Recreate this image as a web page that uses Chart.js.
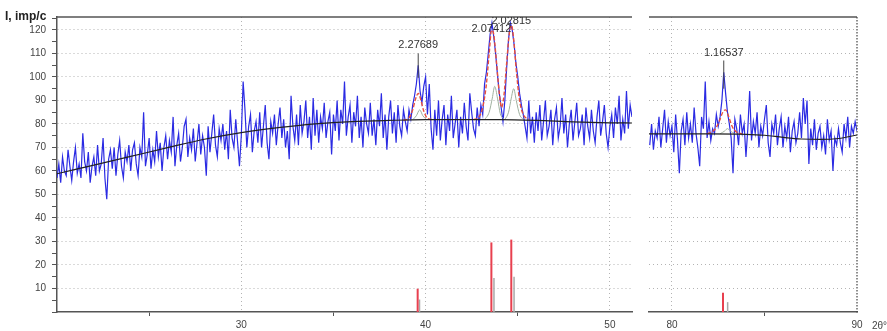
<!DOCTYPE html>
<html>
<head>
<meta charset="utf-8">
<script src="https://cdn.jsdelivr.net/npm/chart.js@4.4.1/dist/chart.umd.min.js"></script>
<style>
  html, body { margin: 0; padding: 0; background: #fff; }
  #wrap { position: relative; width: 887px; height: 331px; overflow: hidden; }
  #wrap canvas { position: absolute; top: 0; }
  #left { left: 0; }
  #right { left: 640px; }
</style>
</head>
<body>
<div id="wrap">
  <canvas id="left" width="640" height="331"></canvas>
  <canvas id="right" width="247" height="331"></canvas>
</div>
<script>
// ---- measured pattern (counts per 0.1 deg step) ----
var STEP = 0.1;
var LEFT_START = 20.0;
var LEFT_COUNTS = [
  57,63,55,66,60,58,69,62,56,64,
  70,59,63,57,76,64,60,68,55,62,
  66,58,71,60,63,74,57,48,65,69,
  61,70,58,67,73,62,57,68,64,71,
  60,69,72,63,58,70,66,85,62,67,
  74,61,69,64,77,66,72,60,70,75,
  65,73,68,83,62,71,76,64,70,79,
  82,66,74,69,78,64,72,80,67,75,
  70,58,79,68,76,84,71,66,78,73,
  80,69,77,65,86,74,70,82,72,62,
  75,98,86,70,79,84,68,77,81,72,
  85,70,79,88,72,65,81,76,84,71,
  80,87,74,82,70,77,65,92,79,73,
  84,71,88,76,81,90,74,83,69,91,
  75,86,72,83,78,89,74,81,85,67,
  84,77,90,73,86,80,98,75,83,88,
  72,85,79,92,74,83,70,87,80,76,
  89,75,82,71,86,79,93,74,84,69,
  83,90,76,85,72,88,79,75,86,81,
  77,86,82,88,92,97,105,94,89,96,
  100,84,97,78,69,86,75,90,73,82,
  88,71,84,77,92,74,80,86,70,83,
  76,89,79,73,93,85,78,75,87,79,
  88,84,97,102,110,118,123,117,110,101,
  93,87,81,90,104,116,123,120,114,106,
  100,93,88,84,79,74,90,76,83,72,
  85,77,88,73,81,90,75,79,86,71,
  82,87,74,79,91,76,84,70,80,86,
  73,81,89,75,78,84,71,87,79,74,
  86,77,72,83,90,75,81,88,76,70,
  79,84,74,87,80,92,73,82,76,94,
  78,88,83
];
var RIGHT_START = 78.8;
var RIGHT_COUNTS = [
  71,80,69,77,74,83,70,78,86,72,81,75,
  79,68,84,73,59,77,82,71,85,74,
  80,72,87,76,70,62,83,78,98,74,
  81,73,78,76,84,79,83,90,102,93,
  85,80,74,59,82,78,71,84,76,80,
  66,78,94,73,81,76,85,70,79,75,
  82,88,72,66,80,76,84,71,78,83,
  70,79,74,83,68,77,81,72,76,85,
  74,91,80,90,63,78,71,82,69,76,
  79,70,75,67,82,73,77,60,74,71,
  78,72,68,80,74,83,70,79,76,81,
  77
];

// background (black)
var BG_L_X = [20, 22, 24, 26, 28, 30, 32, 34, 36, 38, 40, 42, 44, 46, 48, 50, 51.2];
var BG_L_Y = [58.8, 62.5, 66.2, 69.9, 73.5, 76.3, 78.4, 80, 81, 81.5, 81.8, 81.8, 81.8, 81.5, 80.9, 80.5, 80.4];
var BG_R_X = [78.76, 80, 82, 84, 85, 86, 87, 88, 89, 90];
var BG_R_Y = [75.8, 75.8, 75.8, 75.6, 75.2, 74.3, 73.6, 73.4, 73.8, 75.3];

// profile fit (red)
var FIT_A_X = [38.8, 39.1, 39.3, 39.45, 39.6, 39.75, 39.9, 40.1, 40.4];
var FIT_A_Y = [81.5, 82.6, 86, 90.5, 93, 90, 85.5, 82.4, 81.8];
var FIT_B_X = [42.6, 42.9, 43.1, 43.3, 43.45, 43.58, 43.7, 43.85, 44.0, 44.12, 44.25, 44.4, 44.55, 44.66, 44.78, 44.92, 45.1, 45.3, 45.6];
var FIT_B_Y = [81.8, 83, 87, 97, 110, 120, 118, 106, 93, 87, 92, 106, 119, 122, 116, 103, 90, 84, 82];
var FIT_C_X = [81.9, 82.3, 82.55, 82.75, 82.9, 83.05, 83.25, 83.5, 83.8];
var FIT_C_Y = [75.8, 77.5, 81, 85, 86, 83.5, 79, 76.5, 75.8];

// a2 components (grey)
var KA2_A_X = [39.3, 39.5, 39.68, 39.85, 40.05];
var KA2_A_Y = [81.8, 83.5, 86, 83.5, 81.8];
var KA2_B_X = [43.2, 43.45, 43.62, 43.75, 43.9, 44.05, 44.3];
var KA2_B_Y = [81.8, 85, 91, 96, 91, 84.5, 81.8];
var KA2_D_X = [44.3, 44.5, 44.65, 44.78, 44.92, 45.1, 45.35];
var KA2_D_Y = [81.8, 85, 91, 95, 90, 84, 81.8];
var KA2_C_X = [82.6, 82.85, 83.0, 83.15, 83.4];
var KA2_C_Y = [75.8, 77, 78, 77, 75.8];

// reference sticks
var STICK_POS = [39.57, 43.57, 44.65, 82.76];
var STICK_INT = [9.9, 29.6, 30.8, 8.2];
var STICK2_POS = [39.67, 43.71, 44.80, 83.01];
var STICK2_INT = [5.3, 14.5, 15.0, 4.2];

// d-spacing labels
var PEAK_LABELS = ['2.27689', '2.07412', '2.02815', '1.16537'];
var PEAK_LABEL_X = [39.6, 43.57, 44.65, 82.8];
var PEAK_LABEL_Y = [113.6, 120.4, 123.6, 110.2];
var MARK_TOP = [110, null, null, 107];
var MARK_BOT = [99.6, null, null, 95];

var FONT = "'Liberation Sans', Arial, sans-serif";
var AXIS = '#555';
var GRID = '#b4b4b4';

function pts(xs, ys) { return xs.map(function (x, i) { return { x: x, y: ys[i] }; }); }
function counts(start, list) {
  return list.map(function (c, i) { return { x: +(start + i * STEP).toFixed(2), y: c }; });
}
function line(data, color, width, order, extra) {
  return Object.assign({ data: data, borderColor: color, borderWidth: width, pointRadius: 0,
    fill: false, tension: 0, order: order }, extra || {});
}
function smooth(data, color, width, order, dash) {
  return line(data, color, width, order, { cubicInterpolationMode: 'monotone', borderDash: dash || [] });
}
function sticks(lo, hi) {
  var out = [];
  STICK2_POS.forEach(function (p, i) {
    if (p > lo && p < hi) out.push(line([{ x: p, y: 0 }, { x: p, y: STICK2_INT[i] }], '#a8a8a8', 1.5, 1));
  });
  STICK_POS.forEach(function (p, i) {
    if (p > lo && p < hi) out.push(line([{ x: p, y: 0 }, { x: p, y: STICK_INT[i] }], '#e8404f', 2, 0));
  });
  return out;
}

function decor(side) {
  return {
    id: 'decor' + side,
    afterDraw: function (chart) {
      var ctx = chart.ctx, a = chart.chartArea, xs = chart.scales.x, ys = chart.scales.y;
      ctx.save();
      // top frame line
      ctx.strokeStyle = AXIS; ctx.lineWidth = 1.5;
      ctx.beginPath(); ctx.moveTo(a.left, a.top); ctx.lineTo(a.right, a.top); ctx.stroke();

      // peak labels
      ctx.save();
      ctx.beginPath(); ctx.rect(a.left, a.top, a.right - a.left, a.bottom - a.top); ctx.clip();
      ctx.font = '11px ' + FONT; ctx.fillStyle = '#333'; ctx.textAlign = 'center'; ctx.textBaseline = 'middle';
      PEAK_LABELS.forEach(function (t, i) {
        var v = PEAK_LABEL_X[i];
        if (v < xs.min || v > xs.max) return;
        var px = xs.getPixelForValue(v);
        if (MARK_TOP[i] !== null) {
          ctx.strokeStyle = '#444'; ctx.lineWidth = 1;
          ctx.beginPath();
          ctx.moveTo(px, ys.getPixelForValue(MARK_TOP[i]));
          ctx.lineTo(px, ys.getPixelForValue(MARK_BOT[i]));
          ctx.stroke();
        }
        ctx.fillText(t, px, ys.getPixelForValue(PEAK_LABEL_Y[i]));
      });
      ctx.restore();

      if (side === 'left') {
        ctx.font = 'bold 12px ' + FONT; ctx.fillStyle = '#222';
        ctx.textAlign = 'left'; ctx.textBaseline = 'middle';
        ctx.fillText('I, imp/c', 5, 17);
      } else {
        // dotted right edge
        ctx.strokeStyle = '#444'; ctx.lineWidth = 1.2; ctx.setLineDash([1.5, 1.5]);
        ctx.beginPath(); ctx.moveTo(a.right, a.top); ctx.lineTo(a.right, a.bottom + 2); ctx.stroke();
        ctx.setLineDash([]);
        ctx.font = '10px ' + FONT; ctx.fillStyle = '#444';
        ctx.textAlign = 'left'; ctx.textBaseline = 'middle';
        ctx.fillText('2θ°', a.right + 15, 326);
      }
      ctx.restore();
    }
  };
}

function gridColor(c) {
  var v = c.tick.value;
  return (v % 10 === 0 && v > 0) ? GRID : 'rgba(0,0,0,0)';
}

function panel(id, side, xmin, xmax, datasets, pad) {
  var showY = side === 'left';
  new Chart(document.getElementById(id).getContext('2d'), {
    type: 'line',
    data: { datasets: datasets },
    options: {
      responsive: false, animation: false,
      layout: { padding: pad },
      plugins: { legend: { display: false }, tooltip: { enabled: false } },
      elements: { point: { radius: 0 } },
      scales: {
        x: {
          type: 'linear', min: xmin, max: xmax,
          afterFit: function (s) { s.height = 19; },
          border: { display: true, color: AXIS, width: 1.5, dash: [1, 3] },
          grid: {
            color: function (c) {
              var v = c.tick.value;
              return (v % 10 === 0 && v !== 20 && v !== 90) ? GRID : 'rgba(0,0,0,0)';
            },
            tickColor: function (c) { return c.tick.value % 10 === 5 ? AXIS : 'rgba(0,0,0,0)'; },
            tickLength: 4, tickWidth: 1
          },
          ticks: {
            stepSize: 5, includeBounds: false, autoSkip: false, maxRotation: 0, padding: 3,
            color: '#444', font: { family: FONT, size: 10 },
            callback: function (v) { return (v % 10 === 0 && v !== 20) ? String(v) : ''; }
          }
        },
        y: {
          min: 0, max: 125.5,
          afterFit: function (s) { s.width = showY ? 57 : 0; },
          border: { display: showY, color: AXIS, width: 1.5, dash: [1, 3] },
          grid: { color: gridColor, tickColor: AXIS, tickLength: 5, drawTicks: showY },
          ticks: {
            display: showY, stepSize: 5, includeBounds: false, autoSkip: false, padding: 6,
            color: '#444', font: { family: FONT, size: 10 },
            callback: function (v) { return (v % 10 === 0 && v > 0) ? String(v) : ''; }
          }
        }
      }
    },
    plugins: [decor(side)]
  });
}

var BLUE = '#2b2be3';

panel('left', 'left', 20, 51.2, [
  line(counts(LEFT_START, LEFT_COUNTS), BLUE, 1.2, 5),
  smooth(pts(KA2_A_X, KA2_A_Y), '#9fb09f', 1, 4),
  smooth(pts(KA2_B_X, KA2_B_Y), '#9fb09f', 1, 4),
  smooth(pts(KA2_D_X, KA2_D_Y), '#9fb09f', 1, 4),
  smooth(pts(FIT_A_X, FIT_A_Y), '#e8503c', 1.4, 3, [4, 2]),
  smooth(pts(FIT_B_X, FIT_B_Y), '#e8503c', 1.4, 3, [4, 2]),
  smooth(pts(BG_L_X, BG_L_Y), '#222', 1.2, 2)
].concat(sticks(20, 51.2)), { left: 0, right: 8, top: 17, bottom: 0 });

panel('right', 'right', 78.76, 90, [
  line(counts(RIGHT_START, RIGHT_COUNTS), BLUE, 1.2, 5),
  smooth(pts(KA2_C_X, KA2_C_Y), '#9fb09f', 1, 4),
  smooth(pts(FIT_C_X, FIT_C_Y), '#e8503c', 1.4, 3, [4, 2]),
  smooth(pts(BG_R_X, BG_R_Y), '#222', 1.2, 2)
].concat(sticks(78.76, 90)), { left: 9, right: 30, top: 17, bottom: 0 });
</script>
</body>
</html>
